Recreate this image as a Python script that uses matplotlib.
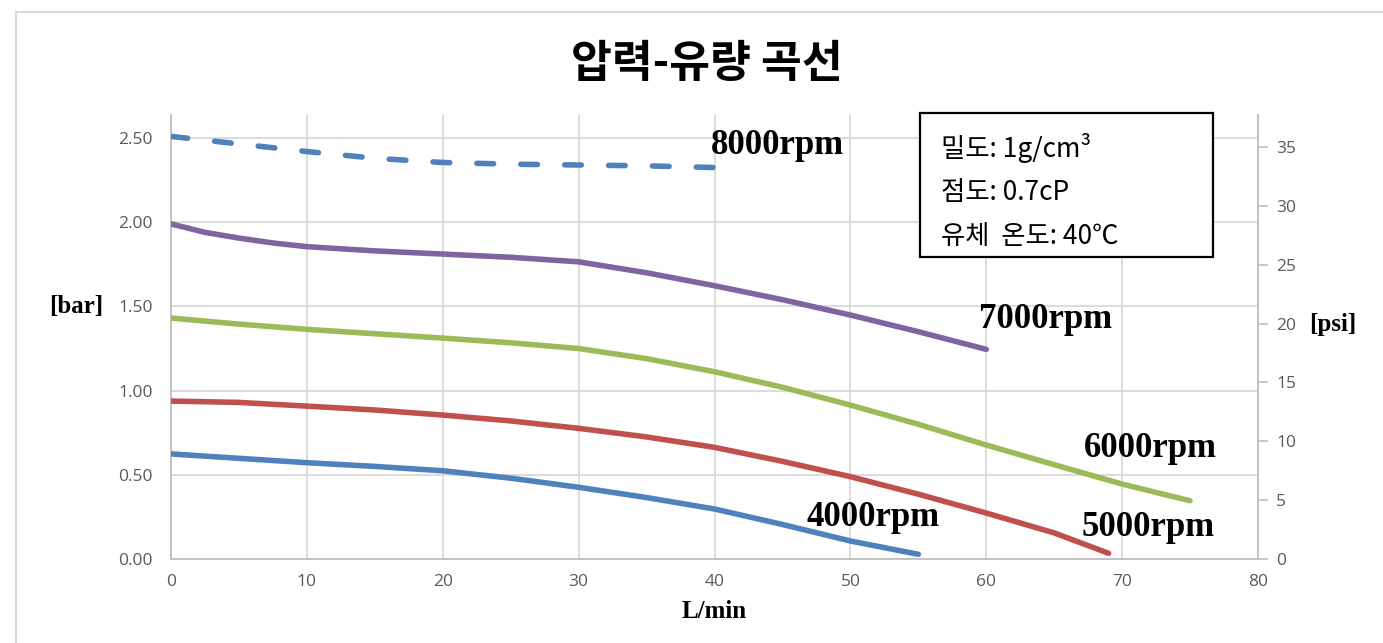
import numpy as np
import matplotlib.pyplot as plt
from matplotlib.patches import Rectangle
from matplotlib.lines import Line2D

# data (L/min -> bar)
q_8000 = [0, 5, 10, 15, 20, 25, 30, 35, 40]
p_8000 = [2.51, 2.465, 2.42, 2.38, 2.355, 2.345, 2.34, 2.335, 2.325]

q_7000 = [0, 2.5, 5, 7.5, 10, 15, 20, 25, 30, 35, 40, 45, 50, 55, 60]
p_7000 = [1.99, 1.94, 1.906, 1.877, 1.855, 1.83, 1.811, 1.792, 1.765, 1.70, 1.623, 1.54, 1.449, 1.35, 1.245]

q_6000 = [0, 5, 10, 15, 20, 25, 30, 35, 40, 45, 50, 55, 60, 65, 70, 75]
p_6000 = [1.431, 1.395, 1.364, 1.338, 1.312, 1.284, 1.25, 1.19, 1.112, 1.02, 0.914, 0.80, 0.677, 0.56, 0.445, 0.346]

q_5000 = [0, 5, 10, 15, 20, 25, 30, 35, 40, 45, 50, 55, 60, 65, 69]
p_5000 = [0.938, 0.93, 0.908, 0.885, 0.855, 0.82, 0.776, 0.725, 0.663, 0.58, 0.489, 0.385, 0.273, 0.155, 0.034]

q_4000 = [0, 5, 10, 15, 20, 25, 30, 35, 40, 45, 50, 55]
p_4000 = [0.624, 0.598, 0.572, 0.55, 0.524, 0.48, 0.426, 0.365, 0.297, 0.205, 0.107, 0.028]

x_ticks = [0, 10, 20, 30, 40, 50, 60, 70, 80]
bar_ticks = [0, 0.5, 1.0, 1.5, 2.0, 2.5]
psi_ticks = [0, 5, 10, 15, 20, 25, 30, 35]

info_lines = ['밀도: 1g/cm³', '점도: 0.7cP', '유체  온도: 40℃']

W, H = 1383, 643
fig = plt.figure(figsize=(W/100, H/100), dpi=100)
fig.patch.set_facecolor('white')

ax = fig.add_axes([171/W, 1-559/H, (1258-171)/W, (559-115)/H])
grey = '#D9D9D9'
tick_col = '#595959'
lw = 4.0

ax.plot(q_8000, p_8000, color='#4F81BD', lw=lw, linestyle=(0, (3.0, 4.9)),
        dash_capstyle='round', solid_capstyle='round', zorder=3)
ax.plot(q_7000, p_7000, color='#8064A2', lw=lw, solid_capstyle='round', zorder=3)
ax.plot(q_6000, p_6000, color='#9BBB59', lw=lw, solid_capstyle='round', zorder=3)
ax.plot(q_5000, p_5000, color='#C0504D', lw=lw, solid_capstyle='round', zorder=3)
ax.plot(q_4000, p_4000, color='#4F81BD', lw=lw, solid_capstyle='round', zorder=3)

ax.set_xlim(0, 80)
ax.set_ylim(0, 2.637)
ax.set_xticks(x_ticks)
ax.set_yticks(bar_ticks)
ax.set_xticklabels([str(v) for v in x_ticks])
ax.set_yticklabels(['%.2f' % v for v in bar_ticks])
ax.grid(True, color=grey, lw=1.3)
ax.set_axisbelow(True)
ax.tick_params(axis='y', length=0, labelsize=12.5, labelcolor=tick_col, pad=13)
ax.tick_params(axis='x', length=0, labelsize=12.5, labelcolor=tick_col, pad=11)
for s in ['top', 'right']:
    ax.spines[s].set_visible(False)
for s in ['left', 'bottom']:
    ax.spines[s].set_color('#BFBFBF')
    ax.spines[s].set_linewidth(1.3)
for lab in ax.get_xticklabels() + ax.get_yticklabels():
    lab.set_family('Open Sans')

ax2 = ax.twinx()
ax2.set_ylim(0, 37.72)
ax2.set_yticks(psi_ticks)
ax2.set_yticklabels([str(v) for v in psi_ticks])
ax2.tick_params(length=7, width=1.2, color='#BFBFBF', labelsize=12.5, labelcolor=tick_col, pad=6)
for s in ['top', 'left', 'bottom']:
    ax2.spines[s].set_visible(False)
ax2.spines['right'].set_color('#BFBFBF')
ax2.spines['right'].set_linewidth(1.3)
for lab in ax2.get_yticklabels():
    lab.set_family('Open Sans')

# curve labels
lab_kw = dict(fontsize=25, fontweight='bold', family='Liberation Serif', ha='center', va='center', zorder=5)
ax.text(44.6, 2.458, '8000rpm', **lab_kw)
ax.text(64.4, 1.42, '7000rpm', **lab_kw)
ax.text(72.1, 0.659, '6000rpm', **lab_kw)
ax.text(71.9, 0.19, '5000rpm', **lab_kw)
ax.text(51.7, 0.249, '4000rpm', **lab_kw)

# axis labels
serif = dict(fontsize=18, fontweight='bold', family='Liberation Serif', ha='center', va='center')
fig.text(76/W, 1-307/H, '[bar]', **serif)
fig.text(1333/W, 1-325/H, '[psi]', **serif)
fig.text(714/W, 1-611/H, 'L/min', **serif)

# title
fig.text(707/W, 1-64/H, '압력-유량 곡선', fontsize=32, fontweight='bold',
         family=['Noto Sans CJK KR', 'DejaVu Sans'], ha='center', va='center')

# info box
fig.add_artist(Rectangle((920/W, 1-257/H), 293/W, 144/H, transform=fig.transFigure,
                         facecolor='white', edgecolor='black', lw=1.6, zorder=4))
for i, line in enumerate(info_lines):
    fig.text(941/W, 1-(148 + i*44.5)/H, line, fontsize=19,
             family=['Noto Sans CJK KR', 'DejaVu Sans'], ha='left', va='center', zorder=5)

# chart area frame
fig.add_artist(Line2D([16/W, 1], [1-12/H, 1-12/H], transform=fig.transFigure, color=grey, lw=1.5))
fig.add_artist(Line2D([16/W, 16/W], [0, 1-12/H], transform=fig.transFigure, color=grey, lw=1.5))

fig.savefig('out.png', dpi=100)
